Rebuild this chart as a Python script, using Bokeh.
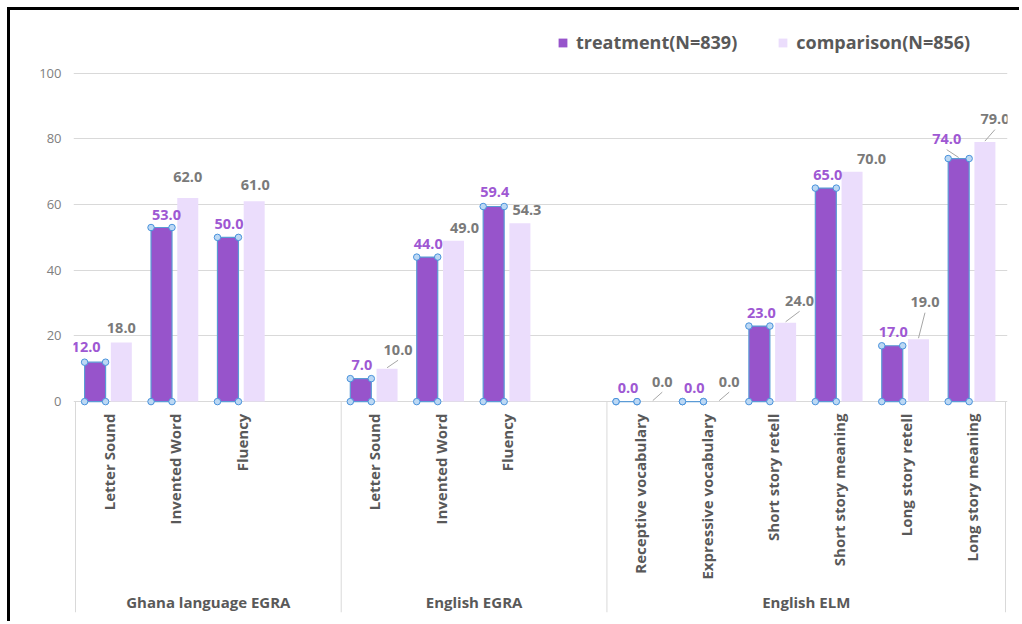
import math
from bokeh.plotting import figure
from bokeh.models import Range1d, FixedTicker, ColumnDataSource, Legend, LegendItem
from bokeh.core.properties import value
from bokeh.embed import file_html
from bokeh.resources import INLINE

# ---------------- data ----------------
groups = ["Ghana language EGRA", "English EGRA", "English ELM"]
group_items = [
    ["Letter Sound", "Invented Word", "Fluency"],
    ["Letter Sound", "Invented Word", "Fluency"],
    ["Receptive vocabulary", "Expressive vocabulary", "Short story retell",
     "Short story meaning", "Long story retell", "Long story meaning"],
]
treatment = [12.0, 53.0, 50.0, 7.0, 44.0, 59.4, 0.0, 0.0, 23.0, 65.0, 17.0, 74.0]
comparison = [18.0, 62.0, 61.0, 10.0, 49.0, 54.3, 0.0, 0.0, 24.0, 70.0, 19.0, 79.0]
series_names = ["treatment(N=839)", "comparison(N=856)"]
y_ticks = [0, 20, 40, 60, 80, 100]

# ---------------- layout / style ----------------
group_slots = [4, 4, 6]          # slots per group (one empty slot after first two groups)
BAR_W = 0.316
T_OFF, C_OFF = -0.205, 0.19
X0, X1 = -0.03, 14.03
Y0, Y1 = -64.2, 114.5
FRAME_W, FRAME_H = 934, 587
PX_X = FRAME_W / (X1 - X0)
PX_Y = FRAME_H / (Y1 - Y0)

T_COLOR = "#9754CB"
C_COLOR = "#EBDDFC"
T_TEXT = "#9E58D3"
C_TEXT = "#7A7A7A"
AX_TEXT = "#595959"
GRID = "#D9D9D9"
SEL = "#5B9BD5"
FONT = "Open Sans"

# label offsets in pixels (dx right, dy up-negative) relative to bar top centre
t_lab_off = [(-9, -15), (5, -13), (1, -13.5), (1, -13.5), (1, -13.5), (1, -14),
             (1.5, -13.3), (1.3, -13.3), (2, -13.5), (2, -13.5), (1, -14), (-12, -19.4)]
c_lab_off = [(0, -14), (0, -21), (1, -16.5), (11, -19), (11, -13), (7, -13),
             (9.5, -20), (10, -20), (14, -22), (19.5, -13), (6.5, -37), (10, -23)]
t_leader = [False] * 11 + [True]
c_leader = [False, False, False, True, False, False, True, True, True, False, True, True]

# ---------------- positions ----------------
centers, labels = [], []
bounds = [0]
start = 0
for items, n in zip(group_items, group_slots):
    for k, it in enumerate(items):
        centers.append(start + k + 0.5)
        labels.append(it)
    start += n
    bounds.append(start)
group_centers = [(a + b) / 2 for a, b in zip(bounds[:-1], bounds[1:])]

tx = [c + T_OFF for c in centers]
cx = [c + C_OFF for c in centers]

p = figure(width=1012, height=614, x_range=Range1d(X0, X1), y_range=Range1d(Y0, Y1),
           output_backend="svg", toolbar_location=None, tools="", x_axis_location=None,
           min_border_left=63, min_border_right=15, min_border_top=15, min_border_bottom=12)
p.styles = {"margin-left": "7px", "margin-top": "7px",
            "border-left": "3px solid #000000", "border-top": "3px solid #000000"}
p.outline_line_color = None
p.background_fill_color = "white"
p.border_fill_color = "white"

p.yaxis.ticker = FixedTicker(ticks=y_ticks)
p.yaxis.axis_line_color = None
p.yaxis.major_tick_line_color = None
p.yaxis.minor_tick_line_color = None
p.yaxis.major_tick_out = 0
p.yaxis.major_tick_in = 0
p.yaxis.major_label_standoff = 12
p.yaxis.major_label_text_font = FONT
p.yaxis.major_label_text_font_size = "13px"
p.yaxis.major_label_text_color = "#808080"
p.ygrid.ticker = FixedTicker(ticks=y_ticks)
p.ygrid.grid_line_color = GRID
p.ygrid.grid_line_width = 1
p.xgrid.visible = False

# group separators below axis
p.segment(x0=bounds, y0=[0] * len(bounds), x1=bounds, y1=[Y0] * len(bounds),
          line_color=GRID, line_width=1)

src = ColumnDataSource(dict(tx=tx, cx=cx, t=treatment, c=comparison))
r_t = p.vbar(x="tx", top="t", bottom=0, width=BAR_W, source=src,
             fill_color=T_COLOR, line_color=None)
r_c = p.vbar(x="cx", top="c", bottom=0, width=BAR_W, source=src,
             fill_color=C_COLOR, line_color=None)
# selection outline + handles on treatment series
p.vbar(x="tx", top="t", bottom=0, width=BAR_W, source=src,
       fill_color=None, line_color=SEL, line_width=1.2)
hx, hy = [], []
for x, v in zip(tx, treatment):
    for sx in (-BAR_W / 2, BAR_W / 2):
        hx += [x + sx, x + sx]
        hy += [0, v]
p.scatter(x=hx, y=hy, marker="circle", size=6.5, fill_color="#BCD8F4",
          line_color="#4A93DC", line_width=1)

# data labels + leader lines
def label_data(xs, vals, offs, leaders):
    lx, ly, txt, l0x, l0y, l1x, l1y = [], [], [], [], [], [], []
    for x, v, (dx, dy), ld in zip(xs, vals, offs, leaders):
        X = x + dx / PX_X
        Y = v - dy / PX_Y
        lx.append(X)
        ly.append(Y)
        txt.append(f"{v:.1f}")
        if ld:
            l0x.append(x)
            l0y.append(v + 1 / PX_Y)
            l1x.append(X)
            l1y.append(Y - 10.5 / PX_Y)
    return lx, ly, txt, (l0x, l0y, l1x, l1y)

for xs, vals, offs, lds, col in ((tx, treatment, t_lab_off, t_leader, T_TEXT),
                                 (cx, comparison, c_lab_off, c_leader, C_TEXT)):
    lx, ly, txt, seg = label_data(xs, vals, offs, lds)
    p.segment(x0=seg[0], y0=seg[1], x1=seg[2], y1=seg[3], line_color="#A6A6A6", line_width=1)
    p.text(x=lx, y=ly, text=txt, text_align="center", text_baseline="middle",
           text_font=value(FONT), text_font_style="bold", text_font_size="14.5px",
           text_color=col)

# category labels (rotated) and group labels
p.text(x=centers, y=[0] * len(centers), text=labels, angle=math.pi / 2,
       y_offset=12, text_align="right", text_baseline="middle",
       text_font=value(FONT), text_font_style="bold", text_font_size="15px",
       text_color=AX_TEXT)
p.text(x=group_centers, y=[0] * len(group_centers), text=groups, y_offset=200,
       text_align="center", text_baseline="middle",
       text_font=value(FONT), text_font_style="bold", text_font_size="15px",
       text_color=AX_TEXT)

legend = Legend(items=[LegendItem(label=series_names[0], renderers=[r_t]),
                       LegendItem(label=series_names[1], renderers=[r_c])],
                orientation="horizontal", location=(484, 558),
                glyph_width=11, glyph_height=11, label_standoff=8, spacing=40,
                padding=0, margin=0, border_line_color=None, background_fill_alpha=0,
                label_text_font=FONT, label_text_font_style="bold",
                label_text_font_size="18px", label_text_color=AX_TEXT)
p.add_layout(legend)

open("out.html", "w").write(file_html(p, INLINE))
